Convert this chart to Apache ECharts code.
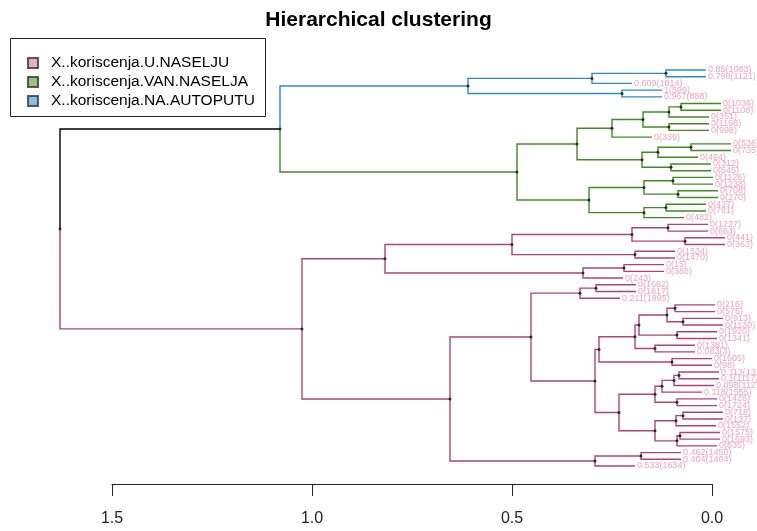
<!DOCTYPE html>
<html><head><meta charset="utf-8">
<script src="https://cdn.jsdelivr.net/npm/echarts@6/dist/echarts.min.js"></script>
<style>html,body{margin:0;padding:0;background:#fff}#c{width:757px;height:531px}</style>
</head><body><div id="c"></div>
<script>
// ---- data ----
const leafLabels = [
 '0.85(1083)','0.798(1121)','0.609(1814)','1(599)','0.967(888)',
 '0(1036)','0(1108)','0(351)','0(1198)','0(998)','0(339)','0(536)','0(735)','0(494)',
 '0(312)','0(645)','0(1126)','0(1238)','0(708)','0(270)','0(437)','0(781)','0(482)',
 '0(1227)','0(664)','0(441)','0(363)','0(1534)','0(1470)','0(15)','0(388)','0(243)',
 '0(1662)','0(1817)','0.211(1895)','0(216)','0(575)','0(913)','0(1130)','0(1920)','0(1341)',
 '0(1381)','0.083(3)','0(1605)','0(98)','0.113(1370)','0.1(1117)','0.098(1127)','0.118(1555)',
 '0(1428)','0(1724)','0(718)','0(137)','0(1552)','0(1575)','0(1693)','0(635)',
 '0.462(1450)','0.404(1404)','0.533(1634)'
];
// cluster of each leaf: 0 = U.NASELJU, 1 = VAN.NASELJA, 2 = NA.AUTOPUTU
const leafCluster = [
 2,2,2,2,2,
 1,1,1,1,1,1,1,1,1,1,1,1,1,1,1,1,1,1,
 0,0,0,0,0,0,0,0,0,0,0,0,0,0,0,0,0,0,0,0,0,0,0,0,0,0,0,0,0,0,0,0,0,0,0,0,0
];
// merges (negative = leaf number, positive = merge number), R hclust style
const mergeLeft  = [-1, 1,-4, 2,-6, 5,-9, 6, 8,-12,10,-15,11, 9,-17,-19,15,-21,18,17,14, 4,
                    -24,-26,23,-28,25,-30,28,27,-33,31,-36,-38,33,-40,35,-42,37,-44,39,-46,42,43,-50,44,
                    -52,47,-55,49,48,46,41,32,-58,55,54,30,22];
const mergeRight = [-2,-3,-5, 3,-7,-8,-10, 7,-11,-13,-14,-16,12,13,-18,-20,16,-22,-23,19,20,21,
                    -25,-27,24,-29,26,-31,-32,29,-34,-35,-37,-39,34,-41,36,-43,38,-45,40,-47,-48,-49,-51,45,
                    -53,-54,-56,-57,50,51,52,53,-59,-60,56,57,58];
const mergeHeight = [0.115,0.30,0.225,0.61,0.0775,0.1075,0.1075,0.1725,0.25,0.0525,0.135,0.1025,0.175,0.3375,0.0975,0.085,0.17,0.115,0.17,0.3075,0.4875,1.08,
                    0.11,0.0675,0.20,0.1925,0.50,0.22,0.3225,0.8175,0.29,0.33,0.0925,0.0725,0.1125,0.0875,0.1825,0.1425,0.1925,0.10,0.2825,0.0825,0.095,0.125,0.0875,0.1425,
                    0.0725,0.09,0.08,0.0875,0.1425,0.2325,0.2925,0.4525,0.1775,0.2925,0.655,1.025,1.63];
const clusterNames = ['X..koriscenja.U.NASELJU','X..koriscenja.VAN.NASELJA','X..koriscenja.NA.AUTOPUTU'];
const branchColors = ['#B0466F','#3F8C22','#2B8CC3'];
const legendColors = ['#E899AC','#7CB560','#70A9DC'];
const xTicks = [0, 0.5, 1.0, 1.5];
const hang = 0.1;

// ---- layout from the merge table ----
const nLeaf = leafLabels.length;
const nodeY = [], nodeH = [], nodeCl = [];
function info(ref){
  if (ref < 0) return {y: -ref, cl: leafCluster[-ref-1], leaf: -ref-1};
  return {y: nodeY[ref-1], h: nodeH[ref-1], cl: nodeCl[ref-1]};
}
const segs = [], labels = [], dots = [];
for (let m = 0; m < mergeLeft.length; m++){
  const a = info(mergeLeft[m]), b = info(mergeRight[m]);
  const h = mergeHeight[m];
  nodeY[m] = (a.y + b.y)/2; nodeH[m] = h;
  nodeCl[m] = (a.cl === b.cl) ? a.cl : -1;
  [a,b].forEach(c => {
    const ch = (c.leaf !== undefined) ? h - hang : c.h;
    segs.push([h, nodeY[m], h, c.y, ch, c.y, c.cl]);
    if (c.leaf !== undefined) labels.push([ch, c.y, c.leaf]);
  });
  dots.push([h, nodeY[m]]);
}

const top0 = 70, step = (466-70)/(nLeaf-1), axisY = 484;
const chart = echarts.init(document.getElementById('c'), null, {renderer:'canvas'});
chart.setOption({
  animation:false,
  backgroundColor:'#fff',
  title:{text:'Hierarchical clustering', left:'center', top:5,
    textStyle:{fontFamily:'Liberation Sans, Arial', fontWeight:'bold', fontSize:21, color:'#000'}},
  grid:{left:112, right:757-712, top: top0 - step, height: axisY - (top0 - step)},
  xAxis:{type:'value', inverse:true, min:0, max:1.5, interval:0.5, position:'bottom',
    splitLine:{show:false},
    axisLine:{show:true, onZero:false, lineStyle:{color:'#222', width:1}},
    axisTick:{show:true, length:12, lineStyle:{color:'#222'}},
    axisLabel:{fontFamily:'Liberation Sans, Arial', fontSize:16, color:'#222', margin:27,
      formatter:v => xTicks.includes(v) ? v.toFixed(1) : ''}},
  yAxis:{type:'value', inverse:true, min:0, max:(axisY-(top0-step))/step, show:false},
  legend:{orient:'vertical', left:22, top:50, itemWidth:10, itemHeight:10, itemGap:3,
    icon:'rect', selectedMode:false,
    textStyle:{fontFamily:'Liberation Sans, Arial', fontSize:15.5, color:'#000', lineHeight:13, padding:[0,0,0,8]},
    data: clusterNames},
  graphic:[{type:'rect', shape:{x:10.5, y:38.5, width:255, height:78},
    style:{fill:'none', stroke:'#222', lineWidth:1}}],
  series:[
    ...clusterNames.map((n,i) => ({name:n, type:'scatter', data:[],
      itemStyle:{color:legendColors[i], borderColor:'#333', borderWidth:1}})),
    {type:'custom', clip:false, silent:true, data:segs,
      renderItem:(p, api) => {
        const p1 = api.coord([api.value(0), api.value(1)]);
        const p2 = api.coord([api.value(2), api.value(3)]);
        const p3 = api.coord([api.value(4), api.value(5)]);
        const cl = api.value(6);
        return {type:'polyline', shape:{points:[p1,p2,p3]},
          style:{stroke: cl < 0 ? '#000' : branchColors[cl], lineWidth:1.4, fill:null}};
      }},
    {type:'scatter', clip:false, silent:true, data:dots, symbolSize:3,
      itemStyle:{color:'#111'}, z:5},
    {type:'custom', clip:false, silent:true, data:labels,
      renderItem:(p, api) => {
        const pt = api.coord([api.value(0), api.value(1)]);
        return {type:'text', x:pt[0]+2, y:pt[1],
          style:{text: leafLabels[api.value(2)], fill:'#EFA5B9', font:'9px "Liberation Sans", Arial',
            textAlign:'left', textVerticalAlign:'middle'}};
      }}
  ]
});
</script></body></html>
